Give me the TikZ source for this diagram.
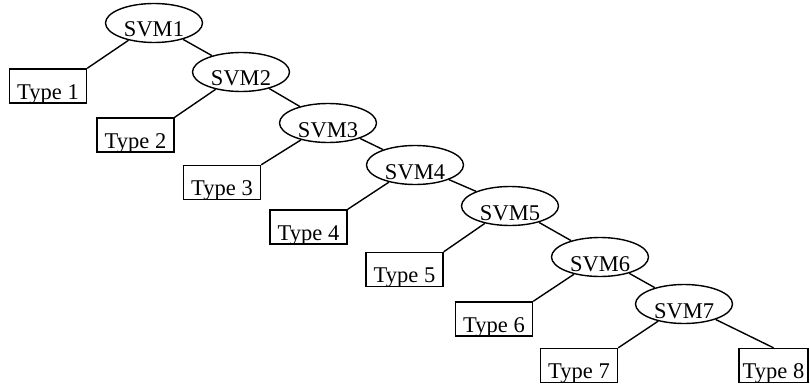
\documentclass[tikz,border=0pt]{standalone}
\usepackage{fontspec}
\setmainfont{Liberation Serif}
\usetikzlibrary{shapes.geometric}
\begin{document}
\begin{tikzpicture}[x=1pt,y=-1pt,
  svm/.style={draw,ellipse,line width=1.4pt,minimum width=97pt,minimum height=39pt,inner sep=0pt},
  typebox/.style={draw,rectangle,line width=1.4pt,minimum width=77pt,minimum height=34pt,inner sep=0pt},
  lbl/.style={font=\fontsize{22.5}{22.5}\selectfont,inner sep=0pt,anchor=base},
  conn/.style={line width=1.4pt}]
\useasboundingbox (0,0) rectangle (810,385);
% SVM ellipses
\node[svm] (s1) at (154,23) {};
\node[svm] (s2) at (241,72) {};
\node[svm] (s3) at (328,123) {};
\node[svm] (s4) at (415,165) {};
\node[svm] (s5) at (510,206) {};
\node[svm] (s6) at (600,257) {};
\node[svm] (s7) at (684,304) {};
% Type boxes
\node[typebox] (t1) at (48,86) {};
\node[typebox] (t2) at (135.5,135) {};
\node[typebox] (t3) at (222,182.5) {};
\node[typebox] (t4) at (308.5,227) {};
\node[typebox] (t5) at (404.5,269.5) {};
\node[typebox] (t6) at (494,319) {};
\node[typebox] (t7) at (579,365.5) {};
\node[typebox,minimum width=69pt] (t8) at (773.5,365.5) {};
% labels
\foreach \i in {1,...,7}{
  \node[lbl] (ls\i) at ([yshift=-14pt]s\i.center) {SVM\i};
}
\foreach \i in {1,...,8}{
  \node[lbl] (lt\i) at ([yshift=4.5pt]t\i.south) {Type \i};
}
% connectors
\draw[conn] (s1) -- (t1.north east);
\draw[conn] (s2) -- (t2.north east);
\draw[conn] (s3) -- (t3.north east);
\draw[conn] (s4) -- (t4.north east);
\draw[conn] (s5) -- (t5.north east);
\draw[conn] (s6) -- (t6.north east);
\draw[conn] (s7) -- (t7.north east);
\draw[conn] (s7) -- (t8.north);
\draw[conn] (s1) -- (s2);
\draw[conn] (s2) -- (s3);
\draw[conn] (s3) -- (s4);
\draw[conn] (s4) -- (s5);
\draw[conn] (s5) -- (s6);
\draw[conn] (s6) -- (s7);
\end{tikzpicture}
\end{document}
